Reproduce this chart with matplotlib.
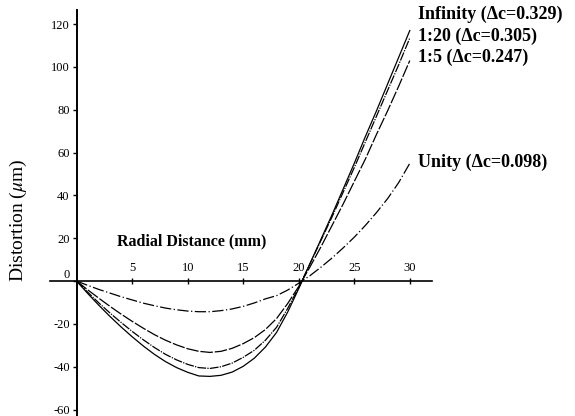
import matplotlib
matplotlib.use('Agg')
import matplotlib.pyplot as plt

plt.rcParams['font.family'] = ['Liberation Serif', 'DejaVu Serif']
plt.rcParams['mathtext.fontset'] = 'stix'

# radial distance (mm)
r = list(range(0, 31))

# distortion (um)
infinity = [0, -5.8, -11.3, -16.5, -21.4, -26.0, -30.3, -34.2, -37.6, -40.4,
            -42.6, -44.3, -44.5, -44.0, -42.5, -39.8, -36.0, -30.8, -24.0, -14.5,
            -3.5, 8.0, 19.5, 31.0, 43.0, 55.0, 67.5, 79.5, 92.0, 104.5, 117.0]
ratio_20 = [0, -5.2, -10.2, -14.9, -19.3, -23.5, -27.4, -31.0, -34.2, -36.8,
            -38.9, -40.4, -40.8, -40.0, -38.3, -35.6, -32.3, -27.6, -21.6, -12.8,
            -3.0, 8.0, 19.0, 30.0, 41.5, 53.0, 65.0, 77.0, 89.0, 101.0, 113.5]
ratio_5 = [0, -4.1, -8.0, -11.8, -15.4, -18.8, -22.0, -25.0, -27.6, -29.8,
           -31.6, -32.8, -33.3, -32.8, -31.4, -29.2, -26.4, -22.6, -17.5, -10.5,
           -2.5, 6.5, 16.0, 26.0, 36.0, 46.5, 57.0, 68.5, 79.5, 91.0, 103.0]
unity = [0, -2.0, -3.9, -5.6, -7.3, -8.8, -10.3, -11.5, -12.6, -13.4,
         -14.0, -14.3, -14.3, -13.8, -13.0, -11.8, -10.2, -8.3, -6.8, -4.2,
         -1.0, 2.5, 6.5, 10.8, 15.5, 20.5, 26.0, 32.0, 38.5, 46.0, 55.0]

labels = ['Infinity (\u0394c=0.329)', '1:20 (\u0394c=0.305)',
          '1:5 (\u0394c=0.247)', 'Unity (\u0394c=0.098)']
label_y = [124.5, 114.5, 104.5, 55.5]

yticks = [120, 100, 80, 60, 40, 20, 0, -20, -40, -60]
xticks = [5, 10, 15, 20, 25, 30]

fig = plt.figure(figsize=(5.75, 4.16), dpi=100)
ax = fig.add_axes([50 / 575, 0.0, (432 - 50) / 575, 1 - 10 / 416])

ax.plot(r, infinity, color='black', lw=0.9)
ax.plot(r, ratio_20, color='black', lw=0.9, linestyle=(0, (7, 1, 1, 1)))
ax.plot(r, ratio_5, color='black', lw=0.9, linestyle=(0, (10, 1.5)))
ax.plot(r, unity, color='black', lw=0.9, linestyle=(0, (9, 2, 1, 2)))

for lab, yy in zip(labels, label_y):
    ax.text(30.7, yy, lab, ha='left', va='center', fontsize=13,
            fontweight='bold', clip_on=False)

ax.text(3.6, 18.7, 'Radial Distance (mm)', ha='left', va='center',
        fontsize=11.5, fontweight='bold')

fig.text(18 / 575, 1 - 220 / 416, 'Distortion ($\\mu$m)', rotation=90,
         ha='center', va='center', fontsize=14)

ax.set_xlim(-2.4, 32)
ax.set_ylim(-63, 126.6)

ax.spines['top'].set_visible(False)
ax.spines['right'].set_visible(False)
ax.spines['left'].set_position(('data', 0))
ax.spines['bottom'].set_position(('data', 0))
ax.spines['left'].set_linewidth(1.4)
ax.spines['bottom'].set_linewidth(1.2)

ax.set_xticks(xticks)
ax.set_xticklabels([str(v) for v in xticks])
ax.set_yticks(yticks)
ax.set_yticklabels([str(v) for v in yticks])
ax.tick_params(axis='x', direction='inout', length=4, width=1, labelsize=9, pad=-16)
ax.tick_params(axis='y', direction='out', length=3, width=1, labelsize=9, pad=2)
for t in ax.get_yticklabels():
    if t.get_text() == '0':
        t.set_va('bottom')

fig.savefig('out.png', dpi=100)
